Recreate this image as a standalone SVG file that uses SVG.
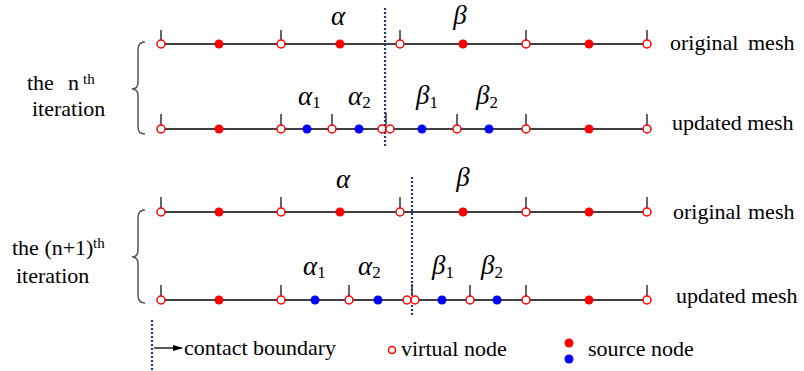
<svg xmlns="http://www.w3.org/2000/svg" width="804" height="371" viewBox="0 0 804 371">
<defs>
<style>
.mesh{stroke:#000;stroke-width:1.3;fill:none}
.tick{stroke:#000;stroke-width:1.2}
.v{fill:#fff;stroke:#f00;stroke-width:1.5}
.r{fill:#f00}
.b{fill:#00f}
.bd{stroke:#1f3b6b;stroke-width:2.2;stroke-dasharray:2,2;fill:none}
.brace{stroke:#555;stroke-width:1.5;fill:none}
.t{font-family:"Liberation Serif","Times New Roman",serif;font-size:22px;fill:#000}
.g{font-family:"Liberation Serif","Times New Roman",serif;font-size:27px;font-style:italic;fill:#000}
.sub{font-style:normal;font-size:17px}
.sup{font-size:15px}
</style>
<marker id="arr" markerWidth="10" markerHeight="8" refX="9" refY="4" orient="auto" markerUnits="userSpaceOnUse">
<path d="M0,1 L10,4 L0,7 Z" fill="#000"/>
</marker>
</defs>

<g id="connectors">
<g id="row1">
<line class="mesh" x1="161" y1="44" x2="647" y2="44"/>
<path class="tick" d="M161,30V40M281,30V40M400,30V40M526,30V40M647,30V40"/>
</g>
<g id="row2">
<line class="mesh" x1="161" y1="129" x2="647" y2="129"/>
<path class="tick" d="M161,114V125M281,114V125M332,114V125M386,113V125M457,114V125M526,114V125M647,114V125"/>
</g>
<g id="row3">
<line class="mesh" x1="161" y1="212" x2="647" y2="212"/>
<path class="tick" d="M161,197V208M281,197V208M400,197V208M526,197V208M647,197V208"/>
</g>
<g id="row4">
<line class="mesh" x1="161" y1="300" x2="647" y2="300"/>
<path class="tick" d="M161,285V296M281,285V296M349,285V296M412,284V296M470,285V296M526,285V296M647,285V296"/>
</g>
<line id="boundary1" class="bd" x1="385" y1="8" x2="385" y2="148"/>
<line id="boundary2" class="bd" x1="412" y1="177" x2="412" y2="317"/>
<path id="brace1" class="brace" d="M145,42 Q138,42 138,50 L138,82 Q138,89 132,89 Q138,89 138,96 L138,127 Q138,134 145,134"/>
<path id="brace2" class="brace" d="M145,210 Q138,210 138,218 L138,250 Q138,257 132,257 Q138,257 138,264 L138,295 Q138,303 145,303"/>
</g>

<g id="nodes-row1">
<circle class="v" cx="161" cy="44" r="4"/>
<circle class="r" cx="219" cy="44" r="4.5"/>
<circle class="v" cx="281" cy="44" r="4"/>
<circle class="r" cx="340" cy="44" r="4.5"/>
<circle class="v" cx="400" cy="44" r="4"/>
<circle class="r" cx="463" cy="44" r="4.5"/>
<circle class="v" cx="526" cy="44" r="4"/>
<circle class="r" cx="589" cy="44" r="4.5"/>
<circle class="v" cx="647" cy="44" r="4"/>
</g>
<g id="nodes-row2">
<circle class="v" cx="161" cy="129" r="4"/>
<circle class="r" cx="219" cy="129" r="4.5"/>
<circle class="v" cx="281" cy="129" r="4"/>
<circle class="b" cx="307" cy="129" r="4.5"/>
<circle class="v" cx="332" cy="129" r="4"/>
<circle class="b" cx="359" cy="129" r="4.5"/>
<circle class="v" cx="382" cy="129" r="4"/>
<circle class="v" cx="390" cy="129" r="4"/>
<circle class="b" cx="422" cy="129" r="4.5"/>
<circle class="v" cx="457" cy="129" r="4"/>
<circle class="b" cx="489" cy="129" r="4.5"/>
<circle class="v" cx="526" cy="129" r="4"/>
<circle class="r" cx="589" cy="129" r="4.5"/>
<circle class="v" cx="647" cy="129" r="4"/>
</g>
<g id="nodes-row3">
<circle class="v" cx="161" cy="212" r="4"/>
<circle class="r" cx="219" cy="212" r="4.5"/>
<circle class="v" cx="281" cy="212" r="4"/>
<circle class="r" cx="340" cy="212" r="4.5"/>
<circle class="v" cx="400" cy="212" r="4"/>
<circle class="r" cx="463" cy="212" r="4.5"/>
<circle class="v" cx="526" cy="212" r="4"/>
<circle class="r" cx="589" cy="212" r="4.5"/>
<circle class="v" cx="647" cy="212" r="4"/>
</g>
<g id="nodes-row4">
<circle class="v" cx="161" cy="300" r="4"/>
<circle class="r" cx="219" cy="300" r="4.5"/>
<circle class="v" cx="281" cy="300" r="4"/>
<circle class="b" cx="315" cy="300" r="4.5"/>
<circle class="v" cx="349" cy="300" r="4"/>
<circle class="b" cx="378" cy="300" r="4.5"/>
<circle class="v" cx="407" cy="300" r="4"/>
<circle class="v" cx="415" cy="300" r="4"/>
<circle class="b" cx="442" cy="300" r="4.5"/>
<circle class="v" cx="470" cy="300" r="4"/>
<circle class="b" cx="497" cy="300" r="4.5"/>
<circle class="v" cx="526" cy="300" r="4"/>
<circle class="r" cx="589" cy="300" r="4.5"/>
<circle class="v" cx="647" cy="300" r="4"/>
</g>

<g id="labels-top">
<text class="g" x="338" y="25" text-anchor="middle">α</text>
<text class="g" x="460" y="24" text-anchor="middle">β</text>
<text class="g" x="298" y="105">α<tspan class="sub" dy="3">1</tspan></text>
<text class="g" x="348" y="105">α<tspan class="sub" dy="3">2</tspan></text>
<text class="g" x="416" y="104">β<tspan class="sub" dy="4">1</tspan></text>
<text class="g" x="476" y="104">β<tspan class="sub" dy="4">2</tspan></text>
<text class="t" x="670" y="50">original</text>
<text class="t" x="748" y="50">mesh</text>
<text class="t" x="672" y="130">updated mesh</text>
<text class="t" x="27" y="90">the</text>
<text class="t" x="68" y="90">n</text>
<text class="t sup" x="83" y="84">th</text>
<text class="t" x="32" y="116" font-size="21.8">iteration</text>
</g>
<g id="labels-bottom">
<text class="g" x="343" y="188" text-anchor="middle">α</text>
<text class="g" x="463" y="186" text-anchor="middle">β</text>
<text class="g" x="303" y="275">α<tspan class="sub" dy="3">1</tspan></text>
<text class="g" x="358" y="275">α<tspan class="sub" dy="3">2</tspan></text>
<text class="g" x="432" y="274">β<tspan class="sub" dy="4">1</tspan></text>
<text class="g" x="481" y="274">β<tspan class="sub" dy="4">2</tspan></text>
<text class="t" x="673" y="219">original</text>
<text class="t" x="748" y="219">mesh</text>
<text class="t" x="676" y="303">updated mesh</text>
<text class="t" x="12" y="255" font-size="20">the (n+1)</text>
<text class="t sup" x="93" y="248">th</text>
<text class="t" x="16" y="283" font-size="21.5">iteration</text>
</g>

<g id="legend">
<line class="bd" x1="152" y1="320" x2="152" y2="371"/>
<line x1="154" y1="348" x2="182" y2="348" stroke="#000" stroke-width="1.3" marker-end="url(#arr)"/>
<text class="t" x="184" y="355" font-size="21">contact boundary</text>
<circle class="v" cx="392" cy="350" r="3.5"/>
<text class="t" x="401" y="356" font-size="20.5">virtual node</text>
<circle class="r" cx="569" cy="343" r="4.5"/>
<circle class="b" cx="569" cy="359" r="4.5"/>
<text class="t" x="588" y="356" font-size="20.5">source node</text>
</g>
</svg>
